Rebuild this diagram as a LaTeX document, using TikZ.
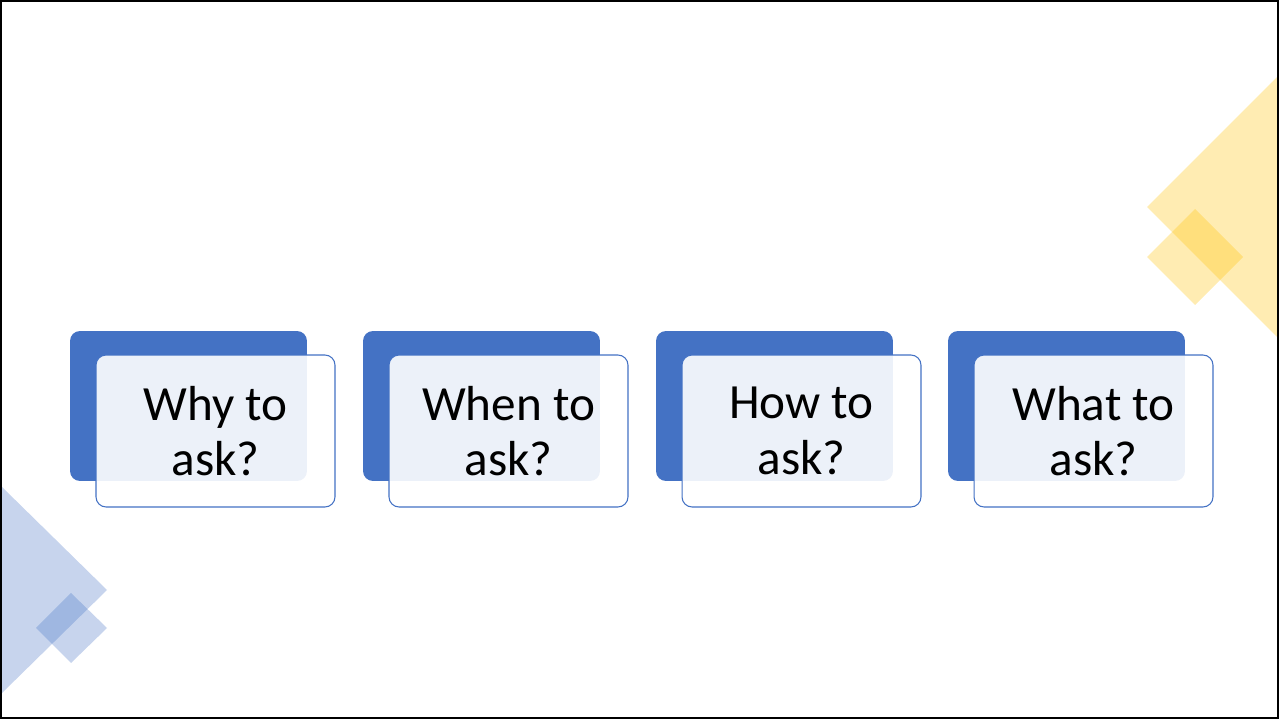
\documentclass[tikz,border=0pt]{standalone}
\usepackage{fontspec}
\setmainfont{Carlito}
\usepackage{tikz}
\usetikzlibrary{positioning}
\definecolor{accblue}{HTML}{4472C4}
\definecolor{accgold}{HTML}{FFC000}

\begin{document}
\begin{tikzpicture}[x=0.02cm, y=-0.02cm,
  back/.style={fill=accblue, rounded corners=0.2cm, minimum width=4.74cm, minimum height=3.0cm, inner sep=0pt},
  card/.style={draw=accblue, line width=0.6pt, fill=white, fill opacity=0.9, text opacity=1,
    rounded corners=0.2cm, minimum width=4.78cm, minimum height=3.04cm, inner sep=0pt,
    align=center, font=\fontsize{28}{31.7}\selectfont},
  gold/.style={fill=accgold, fill opacity=0.3},
  pale/.style={fill=accblue, fill opacity=0.3}]
\useasboundingbox (0,0) rectangle (1279,719);
% corner decorations
\fill[gold] (1147,207) -- (1278,76) -- (1278,338) -- cycle;
\fill[gold] (1195,209) -- (1243,257) -- (1195,305) -- (1147,257) -- cycle;
\fill[pale] (2,487) -- (107,590) -- (2,693) -- cycle;
\fill[pale] (71,593) -- (107,628) -- (71,663) -- (36,628) -- cycle;
% four questions
\node[back] (back1) at (188.5,406) {};
\node[card] (card1) at (215.5,431) {Why to\\ask?};
\node[back] (back2) at (481.5,406) {};
\node[card] (card2) at (508.5,431) {When to\\ask?};
\node[back] (back3) at (774.5,406) {};
\node[card] (card3) at (801.5,431) {How to\\ask?};
\node[back] (back4) at (1066.5,406) {};
\node[card] (card4) at (1093.5,431) {What to\\ask?};
% slide frame
\draw[line width=1.2pt] (1,1) rectangle (1278,718);
\end{tikzpicture}
\end{document}
